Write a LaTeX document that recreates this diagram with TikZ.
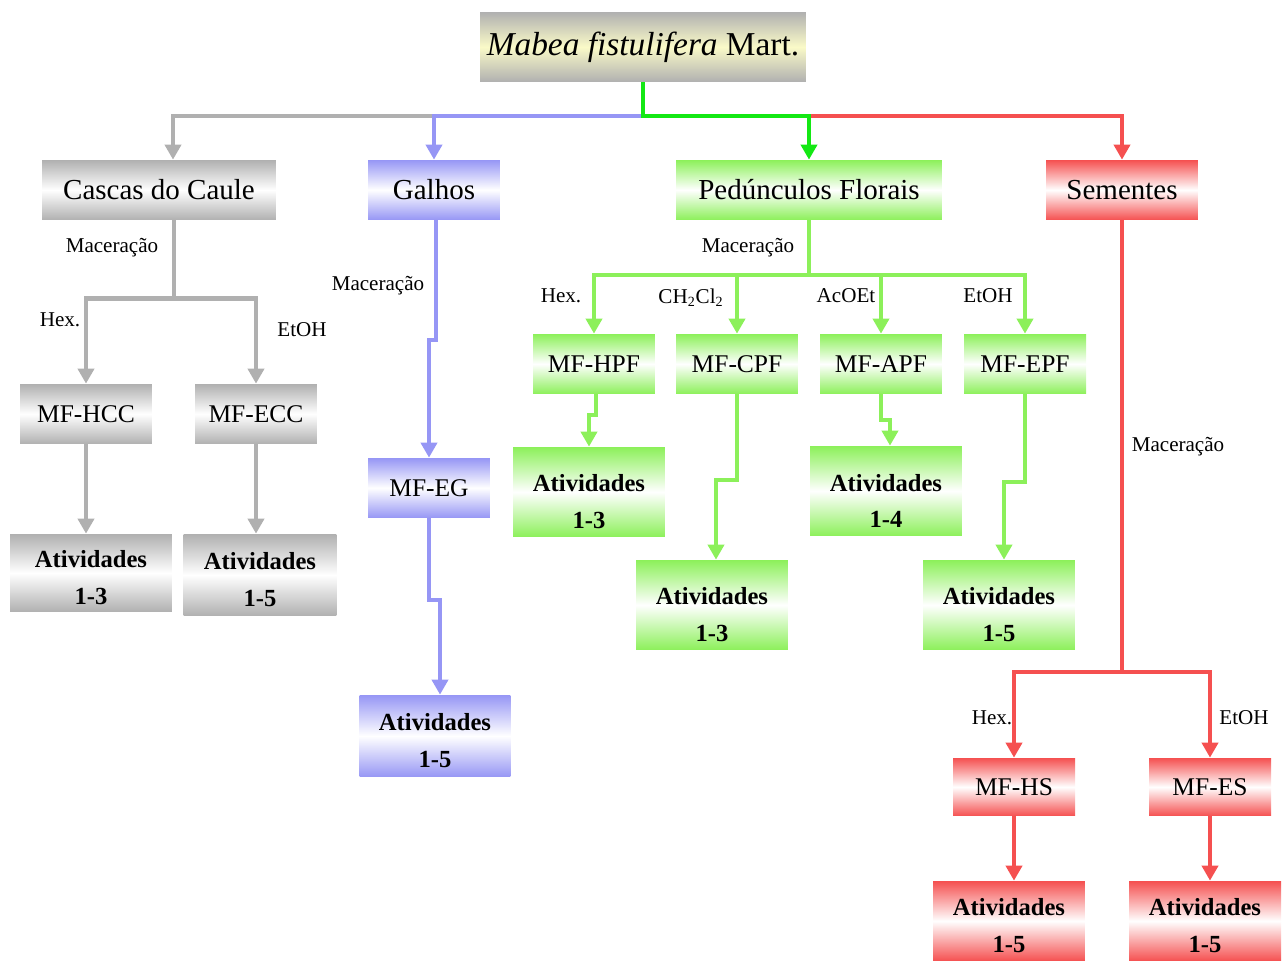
\documentclass[tikz,border=0pt]{standalone}
\usepackage{fontspec}
\setmainfont{Liberation Serif}
\usetikzlibrary{arrows.meta,positioning}

\definecolor{grayC}{RGB}{176,176,176}
\definecolor{blueC}{RGB}{150,150,245}
\definecolor{greenC}{RGB}{20,232,20}
\definecolor{lgreenC}{RGB}{140,240,90}
\definecolor{redC}{RGB}{245,80,80}
\definecolor{creamC}{RGB}{250,250,200}

% two-line activity label, first line lowered by a strut
\newcommand{\atvlines}[2][0.54cm]{\rule{0pt}{#1}Atividades\\#2}

\begin{document}
\begin{tikzpicture}[
  x=0.02cm,y=-0.02cm,
  >={Triangle[length=0.3cm,width=0.32cm]},
  box/.style={inner sep=0pt, align=center, minimum height=1.2cm},
  titlebox/.style={box, top color=grayC, bottom color=grayC, middle color=creamC, minimum width=6.52cm, minimum height=1.4cm, font=\fontsize{19}{22}\selectfont},
  part/.style={box, font=\fontsize{16.5}{19}\selectfont},
  extract/.style={box, minimum width=2.44cm, font=\fontsize{14.5}{17}\selectfont},
  atv/.style={box, minimum width=3.04cm, minimum height=1.8cm, font=\fontsize{14}{21}\selectfont\bfseries},
  grayfill/.style={top color=grayC, bottom color=grayC, middle color=white},
  bluefill/.style={top color=blueC, bottom color=blueC, middle color=white},
  greenfill/.style={top color=lgreenC, bottom color=lgreenC, middle color=white},
  redfill/.style={top color=redC, bottom color=redC, middle color=white},
  lbl/.style={font=\fontsize{12}{14}\selectfont},
  grayline/.style={draw=grayC, line width=2.6pt},
  blueline/.style={draw=blueC, line width=2.4pt},
  greenline/.style={draw=lgreenC, line width=2.2pt},
  topline/.style={draw=greenC, line width=2.6pt},
  redline/.style={draw=redC, line width=2.4pt}
]
\useasboundingbox (0,0) rectangle (1288,962);

% species and the four plant parts
\node[titlebox] (title) at (643,47) {\textit{Mabea fistulifera} Mart.};
\node[part, grayfill, minimum width=4.68cm] (cas) at (159,190) {Cascas do Caule};
\node[part, bluefill, minimum width=2.64cm] (gal) at (434,190) {Galhos};
\node[part, greenfill, minimum width=5.32cm] (ped) at (809,190) {Pedúnculos Florais};
\node[part, redfill, minimum width=3.04cm] (sem) at (1122,190) {Sementes};

% extracts
\node[extract, grayfill, minimum width=2.64cm] (hcc) at (86,414) {MF-HCC};
\node[extract, grayfill] (ecc) at (256,414) {MF-ECC};
\node[extract, bluefill] (eg) at (429,488) {MF-EG};
\node[extract, greenfill] (hpf) at (594,364) {MF-HPF};
\node[extract, greenfill] (cpf) at (737,364) {MF-CPF};
\node[extract, greenfill] (apf) at (881,364) {MF-APF};
\node[extract, greenfill] (epf) at (1025,364) {MF-EPF};
\node[extract, redfill, minimum height=1.16cm] (hs) at (1014,787) {MF-HS};
\node[extract, redfill, minimum height=1.16cm] (es) at (1210,787) {MF-ES};

% activities
\node[atv, grayfill, minimum width=3.24cm, minimum height=1.56cm] (atvhcc) at (91,573) {\atvlines{1-3}};
\node[atv, grayfill, minimum width=3.06cm, minimum height=1.64cm] (atvecc) at (260,575) {\atvlines{1-5}};
\node[atv, bluefill, minimum width=3.02cm, minimum height=1.64cm] (atveg) at (435,736) {\atvlines{1-5}};
\node[atv, greenfill] (atvhpf) at (589,492) {\atvlines[0.74cm]{1-3}};
\node[atv, greenfill] (atvcpf) at (712,605) {\atvlines[0.74cm]{1-3}};
\node[atv, greenfill] (atvapf) at (886,491) {\atvlines[0.74cm]{1-4}};
\node[atv, greenfill] (atvepf) at (999,605) {\atvlines[0.74cm]{1-5}};
\node[atv, redfill, minimum height=1.6cm] (atvhs) at (1009,921) {\atvlines{1-5}};
\node[atv, redfill, minimum height=1.6cm] (atves) at (1205,921) {\atvlines{1-5}};

% top distribution
\coordinate (bus) at (643,116);
\draw[grayline,->] (bus -| gal.north) -| ([xshift=0.28cm]cas.north);
\draw[blueline,->] (bus) -| (gal.north);
\draw[redline,->] (bus -| ped.north) -| (sem.north);
\draw[topline,->] (title.south) -- (bus) -| (ped.north);

% stem bark
\draw[grayline] ([xshift=0.3cm]cas.south) -- ++(0,78) coordinate (cbus);
\draw[grayline,->] (cbus) -| (hcc.north);
\draw[grayline,->] (cbus) -| (ecc.north);
\draw[grayline,->] (hcc.south) -- (hcc.south |- atvhcc.north);
\draw[grayline,->] (ecc.south) -- (ecc.south |- atvecc.north);
\node[lbl] (maccas) at (112,248) {Maceração};
\node[lbl] (hexcas) at (60,320) {Hex.};
\node[lbl] (etcas) at (302,330) {EtOH};

% branches
\draw[blueline,->] ([xshift=0.04cm]gal.south) -- ++(0,120) -| (eg.north);
\draw[blueline,->] (eg.south) -- ++(0,82) -| ([xshift=0.1cm]atveg.north);
\node[lbl] (macgal) at (378,286) {Maceração};

% floral peduncles
\draw[greenline] (ped.south) -- ++(0,55) coordinate (pbus);
\foreach \e in {hpf,cpf,apf,epf}
  \draw[greenline,->] (pbus) -| (\e.north);
\draw[greenline,->] ([xshift=0.04cm]hpf.south) -- ++(0,21) -| (atvhpf.north);
\draw[greenline,->] (cpf.south) -- ++(0,86) -| ([xshift=0.08cm]atvcpf.north);
\draw[greenline,->] (apf.south) -- ++(0,26) -| ([xshift=0.08cm]atvapf.north);
\draw[greenline,->] (epf.south) -- ++(0,88) -| ([xshift=0.1cm]atvepf.north);
\node[lbl] (macped) at (748,248) {Maceração};
\node[lbl] (hexped) at (561,296) {Hex.};
\node[lbl] (dcmped) at (691,298) {CH\textsubscript{2}Cl\textsubscript{2}};
\node[lbl] (acoped) at (846,296) {AcOEt};
\node[lbl] (etped) at (988,296) {EtOH};

% seeds
\draw[redline] (sem.south) -- ++(0,452) coordinate (sbus);
\draw[redline,->] (sbus) -| (hs.north);
\draw[redline,->] (sbus) -| (es.north);
\draw[redline,->] (hs.south) -- (hs.south |- atvhs.north);
\draw[redline,->] (es.south) -- (es.south |- atves.north);
\node[lbl] (macsem) at (1178,447) {Maceração};
\node[lbl] (hexsem) at (992,718) {Hex.};
\node[lbl] (etsem) at (1244,718) {EtOH};
\end{tikzpicture}
\end{document}
